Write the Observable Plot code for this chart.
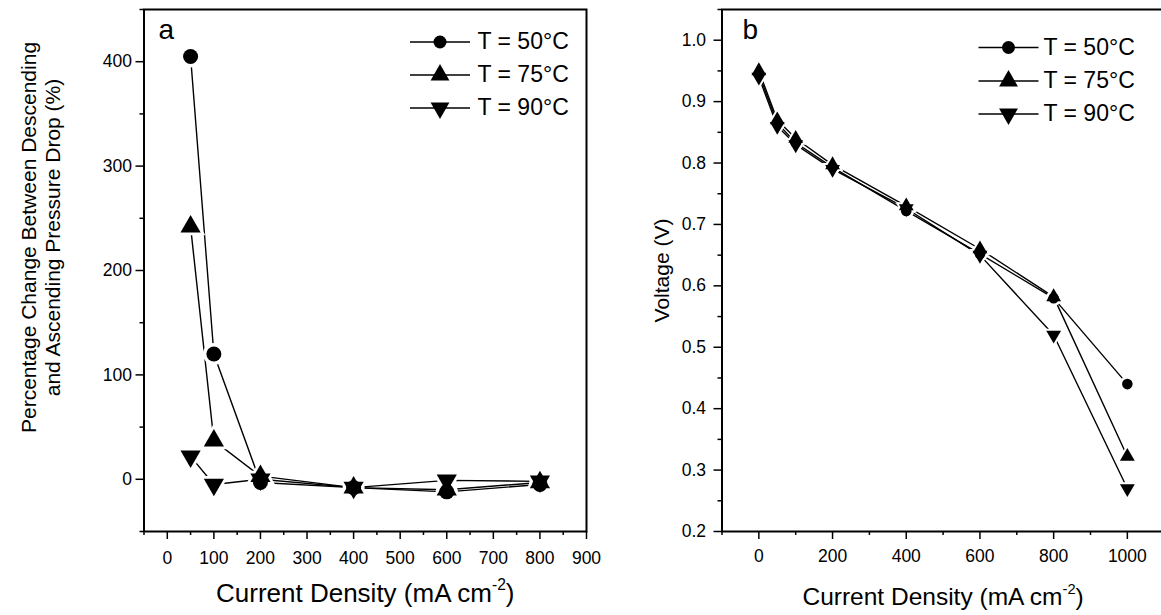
<!DOCTYPE html>
<html><head><meta charset="utf-8">
<script src="https://cdn.jsdelivr.net/npm/d3@7"></script>
<script src="https://cdn.jsdelivr.net/npm/@observablehq/plot@0.6"></script>
<style>
html,body{margin:0;padding:0;background:#fff;overflow:hidden}
#wrap{position:relative;width:1161px;height:615px;overflow:hidden;background:#fff}
#pa,#pb{position:absolute;top:0}
#pa{left:0;width:600px}
#pb{left:600px;width:600px}
svg{max-width:none !important}
</style></head><body>
<div id="wrap"><div id="pa"></div><div id="pb"></div></div>
<script>
// ---------- data ----------
const seriesNames = ["T = 50°C", "T = 75°C", "T = 90°C"];

// panel a: percentage change between descending and ascending pressure drop
const currentA = [50, 100, 200, 400, 600, 800];
const pct50 = [405, 120, -3, -8, -12, -5];
const pct75 = [242, 37, 3, -8, -10, -3];
const pct90 = [22, -5, 0, -8, -1, -2];

// panel b: polarisation curves
const currentB = [0, 50, 100, 200, 400, 600, 800, 1000];
const volt50 = [0.945, 0.865, 0.833, 0.793, 0.722, 0.652, 0.580, 0.440];
const volt75 = [0.950, 0.870, 0.840, 0.797, 0.730, 0.660, 0.582, 0.322];
const volt90 = [0.940, 0.860, 0.830, 0.790, 0.726, 0.650, 0.520, 0.270];

// tick values
const ticksAx = [0, 100, 200, 300, 400, 500, 600, 700, 800, 900];
const minorAx = [-50, 50, 150, 250, 350, 450, 550, 650, 750, 850];
const ticksAy = [0, 100, 200, 300, 400];
const minorAy = [-50, 50, 150, 250, 350, 450];
const ticksBx = [0, 200, 400, 600, 800, 1000];
const minorBx = [-100, 100, 300, 500, 700, 900, 1100];
const ticksBy = [0.2, 0.3, 0.4, 0.5, 0.6, 0.7, 0.8, 0.9, 1.0];
const minorBy = [0.25, 0.35, 0.45, 0.55, 0.65, 0.75, 0.85, 0.95, 1.05];

const xTitle = "Current Density (mA cm-2)";
const yTitleA = "Percentage Change Between Descending\nand Ascending Pressure Drop (%)";
const yTitleB = "Voltage (V)";

// ---------- helpers ----------
const FONT = "'Liberation Sans', Arial, Helvetica, sans-serif";
const TICKFS = 17.5;
function tri(down) {
  return {draw(ctx, size) {
    const a = Math.sqrt(size * 4 / Math.sqrt(3));
    const h = a * Math.sqrt(3) / 2;
    const s = down ? 1 : -1;
    ctx.moveTo(0, s * 2 * h / 3);
    ctx.lineTo(-a / 2, -s * h / 3);
    ctx.lineTo(a / 2, -s * h / 3);
    ctx.closePath();
  }};
}
const symbols = [d3.symbolCircle, tri(false), tri(true)];
const legendLine = {draw(ctx) { ctx.moveTo(-30, 0); ctx.lineTo(30, 0); }};

function table(xs, ys) {
  return ys.flatMap((vals, k) => vals.map((v, i) => ({x: xs[i], y: v, series: seriesNames[k]})));
}

function seriesMarks(data, radii, halo) {
  const m = [Plot.line(data, {x: "x", y: "y", z: "series", stroke: "black", strokeWidth: 1.4})];
  seriesNames.forEach((s, k) => {
    m.push(Plot.dot(data, {filter: d => d.series === s, x: "x", y: "y", symbol: symbols[k],
      r: radii[k] + halo, fill: "white", stroke: "none"}));
  });
  seriesNames.forEach((s, k) => {
    m.push(Plot.dot(data, {filter: d => d.series === s, x: "x", y: "y", symbol: symbols[k],
      r: radii[k], fill: "black", stroke: "none"}));
  });
  return m;
}

function legendMarks(dxLine, dxText, dys, radii) {
  const m = [];
  seriesNames.forEach((s, k) => {
    m.push(Plot.dot([s], {frameAnchor: "top-left", dx: dxLine, dy: dys[k], symbol: legendLine,
      r: 5, fill: "none", stroke: "black", strokeWidth: 1.5}));
    m.push(Plot.dot([s], {frameAnchor: "top-left", dx: dxLine, dy: dys[k], symbol: symbols[k],
      r: radii[k], fill: "black", stroke: "none"}));
    m.push(Plot.text([s], {frameAnchor: "top-left", dx: dxText, dy: dys[k], text: d => d,
      textAnchor: "start", lineAnchor: "middle", fontSize: 23, fill: "black"}));
  });
  return m;
}

function finish(svg) {
  // tick label size
  d3.select(svg).selectAll('g[aria-label$="tick label"]').attr("font-size", TICKFS);
  // superscript in axis titles
  d3.select(svg).selectAll("text").each(function() {
    if (this.childElementCount === 0 && this.textContent.includes("cm-2")) {
      const [pre, post] = this.textContent.split("-2");
      const t = d3.select(this).text(null);
      t.append("tspan").text(pre);
      t.append("tspan").attr("font-size", "0.6em").attr("dy", "-0.75em").text("-2");
      t.append("tspan").attr("dy", "0.45em").text(post);
    }
  });
}

const style = {fontFamily: FONT, fontSize: TICKFS + "px", background: "transparent", color: "black", overflow: "visible"};

// ---------- panel a ----------
const dataA = table(currentA, [pct50, pct75, pct90]);
const rA = [7.5, 7.5, 7.5];
const plotA = Plot.plot({
  width: 600, height: 615,
  marginLeft: 143.5, marginRight: 14, marginTop: 9, marginBottom: 84,
  x: {domain: [-50, 900]},
  y: {domain: [-50, 450]},
  style,
  marks: [
    ...seriesMarks(dataA, rA, 3.5),
    Plot.frame({stroke: "black", strokeWidth: 2}),
    Plot.axisX({ticks: ticksAx, tickSize: 8, tickPadding: 12, fontSize: TICKFS, strokeWidth: 1.5, label: null, fill: "black"}),
    Plot.axisX({ticks: minorAx, tickSize: 4, tickFormat: () => "", strokeWidth: 1.5, label: null}),
    Plot.axisY({ticks: ticksAy, tickSize: 8, tickPadding: 4, fontSize: TICKFS, strokeWidth: 1.5, label: null, fill: "black"}),
    Plot.axisY({ticks: minorAy, tickSize: 4, tickFormat: () => "", strokeWidth: 1.5, label: null}),
    Plot.text([xTitle], {frameAnchor: "bottom", dy: 62, fontSize: 26, fill: "black", textAnchor: "middle", lineAnchor: "middle"}),
    Plot.text([yTitleA], {frameAnchor: "left", rotate: -90, dx: -104, dy: -33, fontSize: 21, lineHeight: 1.15, fill: "black", textAnchor: "middle", lineAnchor: "middle"}),
    Plot.text(["a"], {frameAnchor: "top-left", dx: 14.5, dy: 21, textAnchor: "start", lineAnchor: "middle", fontSize: 28, fill: "black"}),
    ...legendMarks(296, 333.5, [32.5, 65.5, 98.5], [6.5, 7, 7])
  ]
});
finish(plotA);
document.getElementById("pa").append(plotA);

// ---------- panel b ----------
const dataB = table(currentB, [volt50, volt75, volt90]);
const rB = [5.3, 5.5, 5.5];
const plotB = Plot.plot({
  width: 600, height: 615,
  marginLeft: 121.5, marginRight: 36.3, marginTop: 9, marginBottom: 84,
  x: {domain: [-100, 1100]},
  y: {domain: [0.2, 1.05]},
  style,
  marks: [
    ...seriesMarks(dataB, rB, 2.5),
    Plot.frame({stroke: "black", strokeWidth: 2}),
    Plot.axisX({ticks: ticksBx, tickSize: 8, tickPadding: 10, fontSize: TICKFS, strokeWidth: 1.5, label: null, fill: "black", tickFormat: d3.format("d")}),
    Plot.axisX({ticks: minorBx, tickSize: 4, tickFormat: () => "", strokeWidth: 1.5, label: null}),
    Plot.axisY({ticks: ticksBy, tickSize: 8, tickPadding: 8, fontSize: TICKFS, strokeWidth: 1.5, label: null, fill: "black", tickFormat: d3.format(".1f")}),
    Plot.axisY({ticks: minorBy, tickSize: 4, tickFormat: () => "", strokeWidth: 1.5, label: null}),
    Plot.text([xTitle], {frameAnchor: "bottom", dy: 66, fontSize: 24.5, fill: "black", textAnchor: "middle", lineAnchor: "middle"}),
    Plot.text([yTitleB], {frameAnchor: "left", rotate: -90, dx: -60, dy: 0, fontSize: 21, fill: "black", textAnchor: "middle", lineAnchor: "middle"}),
    Plot.text(["b"], {frameAnchor: "top-left", dx: 20.5, dy: 21, textAnchor: "start", lineAnchor: "middle", fontSize: 28, fill: "black"}),
    ...legendMarks(286.5, 321.5, [38, 71.5, 104.5], [6.5, 7, 7])
  ]
});
finish(plotB);
document.getElementById("pb").append(plotB);
</script>
</body></html>
